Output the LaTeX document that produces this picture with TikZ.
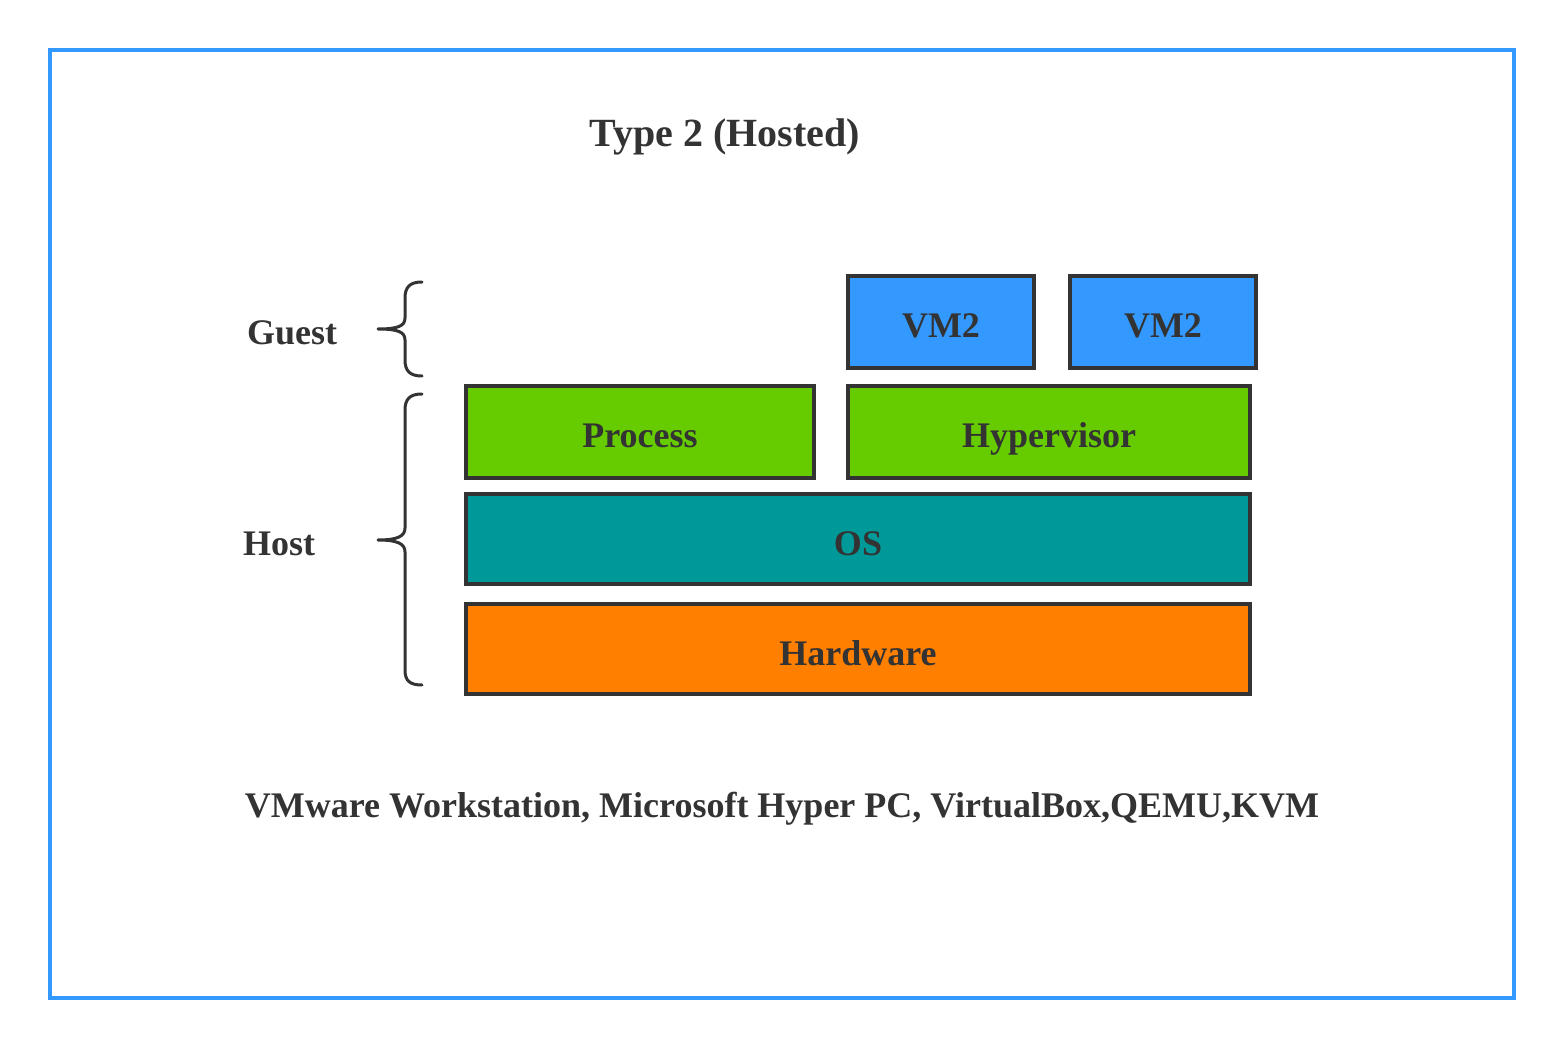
\documentclass[tikz,border=0pt]{standalone}
\usepackage{fontspec}
\setmainfont{Liberation Serif}
\definecolor{ink}{HTML}{333333}
\definecolor{frameblue}{HTML}{3399FF}
\definecolor{vmblue}{HTML}{3399FF}
\definecolor{lgreen}{HTML}{66CC00}
\definecolor{teal2}{HTML}{009999}
\definecolor{orange2}{HTML}{FF8000}
\begin{document}
\begin{tikzpicture}[x=1pt,y=-1pt,
  layer/.style={draw=ink, line width=4pt, inner sep=0pt, text=ink,
    font=\fontsize{36}{40}\selectfont\bfseries, text height=32pt, text depth=0pt},
  lbl/.style={text=ink, inner sep=0pt, anchor=base, font=\fontsize{36}{40}\selectfont\bfseries},
  bracepath/.style={draw=ink, line width=3pt, line cap=round, line join=round}]
\useasboundingbox (0,0) rectangle (1564,1048);
\fill[white] (0,0) rectangle (1564,1048);
\draw[frameblue, line width=4pt] (50,50) rectangle (1514,998);

\node[lbl, font=\fontsize{40}{44}\selectfont\bfseries] (title) at (725,147) {Type 2 (Hosted)};

\node[layer, fill=vmblue, minimum width=186pt, minimum height=92pt] (vm1) at (941,322) {VM2};
\node[layer, fill=vmblue, minimum width=186pt, minimum height=92pt] (vm2) at (1163,322) {VM2};
\node[layer, fill=lgreen, minimum width=348pt, minimum height=92pt] (proc) at (640,432) {Process};
\node[layer, fill=lgreen, minimum width=402pt, minimum height=92pt] (hyp) at (1049,432) {Hypervisor};
\node[layer, fill=teal2, minimum width=784pt, minimum height=90pt] (os) at (858,539) {OS};
\node[layer, fill=orange2, minimum width=784pt, minimum height=90pt] (hw) at (858,649) {Hardware};

\node[lbl] (guest) at (292,345) {Guest};
\node[lbl] (host) at (279,555) {Host};

\draw[bracepath] (422,282) .. controls (410,282) and (405,287) .. (405,298) -- (405,318)
  .. controls (405,326) and (398,329) .. (378,329)
  .. controls (398,329) and (405,332) .. (405,340) -- (405,360)
  .. controls (405,371) and (410,376) .. (422,376);
\draw[bracepath] (422,394) .. controls (410,394) and (405,399) .. (405,410) -- (405,528)
  .. controls (405,536) and (398,540) .. (378,540)
  .. controls (398,540) and (405,544) .. (405,552) -- (405,670)
  .. controls (405,681) and (410,685) .. (422,685);

\node[lbl] (examples) at (782,817) {VMware Workstation, Microsoft Hyper PC, VirtualBox,QEMU,KVM};
\end{tikzpicture}
\end{document}
